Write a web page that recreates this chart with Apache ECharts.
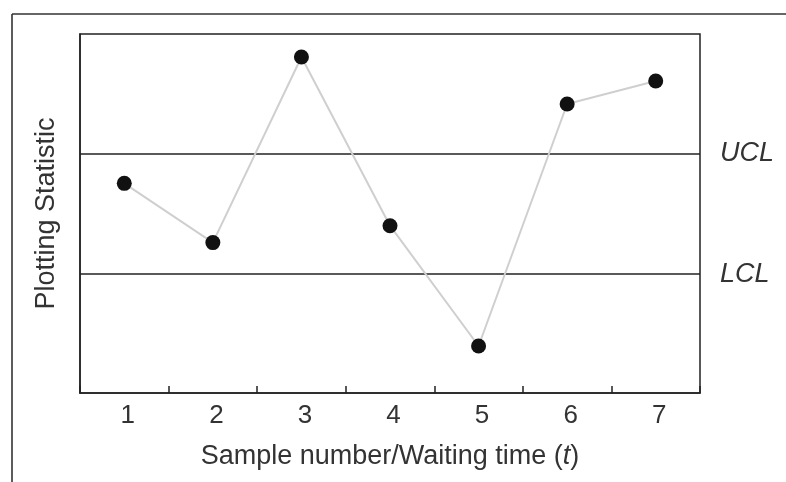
<!DOCTYPE html>
<html>
<head>
<meta charset="utf-8">
<script src="https://cdn.jsdelivr.net/npm/echarts@6/dist/echarts.min.js"></script>
<style>
html,body{margin:0;padding:0;background:#fff;}
#c{width:786px;height:482px;}
</style>
</head>
<body>
<div id="c"></div>
<script>
const categories = ['1', '2', '3', '4', '5', '6', '7'];
const plottingStatistic = [58.4, 41.9, 93.6, 46.6, 13.1, 80.5, 86.9];
const controlLimits = [
  { name: 'UCL', value: 66.6 },
  { name: 'LCL', value: 33.1 }
];
const yRange = [0, 100];

const chart = echarts.init(document.getElementById('c'), null, { renderer: 'canvas' });
const font = 'Liberation Sans, Arial, sans-serif';
chart.setOption({
  animation: false,
  backgroundColor: '#fff',
  graphic: [
    { type: 'line', shape: { x1: 12, y1: 14, x2: 786, y2: 14 }, style: { stroke: '#333', lineWidth: 1.6 } },
    { type: 'line', shape: { x1: 12, y1: 14, x2: 12, y2: 482 }, style: { stroke: '#333', lineWidth: 1.6 } }
  ],
  grid: {
    left: 80, top: 34, right: 86, bottom: 89,
    show: true, borderColor: '#222', borderWidth: 1.5, backgroundColor: 'transparent'
  },
  xAxis: {
    type: 'category',
    data: categories,
    boundaryGap: true,
    name: 'Sample number/Waiting time ({i|t})',
    nameLocation: 'middle',
    nameGap: 50,
    nameTextStyle: {
      fontFamily: font, fontSize: 27, color: '#333',
      rich: { i: { fontStyle: 'italic', fontFamily: font, fontSize: 27, color: '#333' } }
    },
    axisLine: { show: true, lineStyle: { color: '#222', width: 1.5 } },
    axisTick: { show: true, inside: true, length: 7, lineStyle: { color: '#222', width: 1.5 } },
    axisLabel: { fontFamily: font, fontSize: 26, color: '#333', margin: 10, padding: [0, 0, 0, 7] },
    splitLine: { show: false }
  },
  yAxis: {
    type: 'value',
    min: yRange[0],
    max: yRange[1],
    name: 'Plotting Statistic',
    nameLocation: 'middle',
    nameGap: 20,
    nameTextStyle: { fontFamily: font, fontSize: 27, color: '#333' },
    axisLine: { show: true, lineStyle: { color: '#222', width: 1.5 } },
    axisTick: { show: false },
    axisLabel: { show: false },
    splitLine: { show: false }
  },
  series: [{
    type: 'line',
    data: plottingStatistic,
    symbol: 'circle',
    symbolSize: 15,
    itemStyle: { color: '#111' },
    lineStyle: { color: '#cfcfcf', width: 2 },
    z: 5,
    markLine: {
      silent: true,
      symbol: 'none',
      animation: false,
      lineStyle: { color: '#222', width: 1.5, type: 'solid' },
      label: {
        show: true, position: 'end', distance: 20,
        formatter: p => p.name,
        fontFamily: font, fontSize: 27, fontStyle: 'italic', color: '#333'
      },
      data: controlLimits.map(c => ({ name: c.name, yAxis: c.value }))
    }
  }]
});
</script>
</body>
</html>
